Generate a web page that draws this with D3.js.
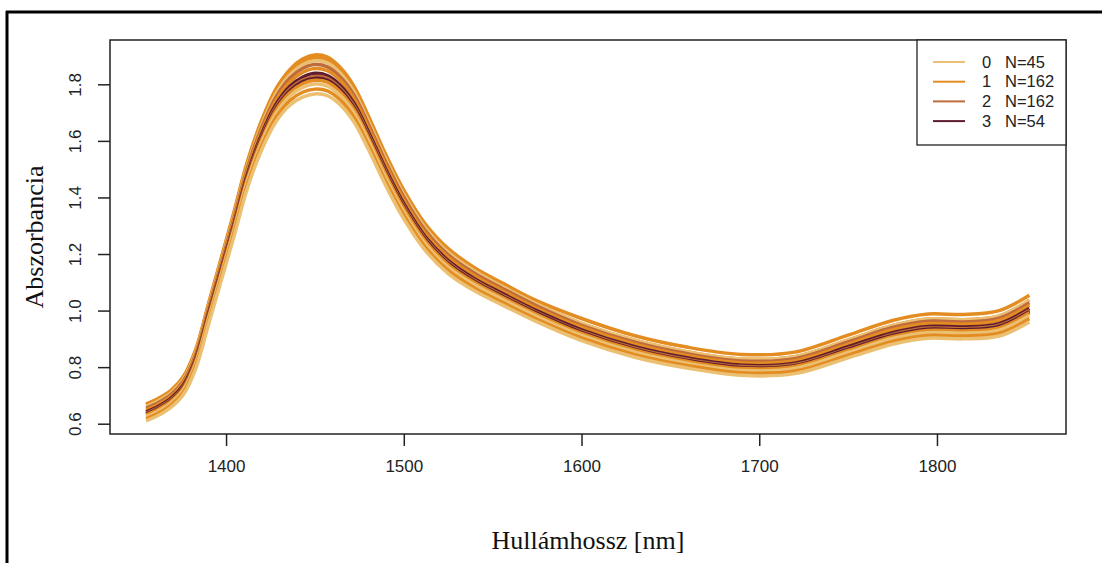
<!DOCTYPE html>
<html>
<head>
<meta charset="utf-8">
<script src="https://cdn.jsdelivr.net/npm/d3@7"></script>
<style>
  html, body { margin: 0; padding: 0; background: #fff; }
  svg { display: block; }
</style>
</head>
<body>
<svg id="chart" width="1102" height="563"></svg>
<script>
// ---- data ----
const wavelengths = [1355,1362,1369,1376,1383,1390,1397,1404,1412,1420,1428,1436,1443,1450,1457,1464,1472,1480,1490,1500,1512,1525,1540,1555,1575,1600,1630,1660,1690,1720,1750,1775,1795,1815,1835,1852];

const groups = ["0", "1", "2", "3"];
const groupCounts = [45, 162, 162, 54];
const groupColors = ["#EBC073", "#E38C22", "#BF6B3C", "#5E1C2E"];

// representative spectra (group index of each, then absorbance at each wavelength)
const spectraGroup = [1, 1, 0, 2, 1, 3, 2, 3, 1, 0, 1, 0];
const s01 = [0.670,0.690,0.718,0.767,0.864,1.022,1.180,1.338,1.527,1.672,1.783,1.853,1.889,1.904,1.896,1.861,1.793,1.689,1.550,1.426,1.307,1.219,1.151,1.099,1.034,0.972,0.911,0.870,0.845,0.853,0.913,0.965,0.988,0.986,1.000,1.054];
const s12 = [0.666,0.686,0.714,0.762,0.859,1.017,1.174,1.332,1.520,1.664,1.775,1.844,1.879,1.894,1.886,1.851,1.784,1.680,1.542,1.419,1.300,1.213,1.145,1.093,1.023,0.955,0.895,0.854,0.829,0.837,0.896,0.947,0.970,0.968,0.981,1.037];
const s02 = [0.661,0.681,0.709,0.757,0.854,1.011,1.168,1.325,1.513,1.656,1.766,1.834,1.869,1.883,1.876,1.841,1.774,1.671,1.534,1.411,1.293,1.206,1.139,1.087,1.023,0.955,0.895,0.854,0.829,0.837,0.896,0.947,0.970,0.968,0.981,1.037];
const s03 = [0.655,0.675,0.703,0.751,0.847,1.004,1.160,1.317,1.504,1.646,1.754,1.822,1.856,1.870,1.862,1.828,1.762,1.660,1.523,1.401,1.284,1.197,1.131,1.080,1.016,0.948,0.888,0.847,0.822,0.830,0.889,0.940,0.962,0.960,0.973,1.028];
const s04 = [0.649,0.669,0.697,0.745,0.840,0.996,1.152,1.308,1.494,1.636,1.742,1.809,1.842,1.856,1.848,1.815,1.749,1.648,1.512,1.390,1.274,1.188,1.122,1.072,1.008,0.941,0.881,0.840,0.815,0.823,0.881,0.932,0.954,0.952,0.965,1.019];
const s05 = [0.642,0.662,0.690,0.737,0.832,0.987,1.142,1.297,1.482,1.623,1.728,1.793,1.825,1.839,1.831,1.798,1.733,1.633,1.498,1.378,1.262,1.177,1.112,1.062,0.999,0.932,0.872,0.832,0.807,0.814,0.872,0.922,0.944,0.942,0.954,1.007];
const s06 = [0.637,0.657,0.685,0.732,0.827,0.981,1.136,1.291,1.475,1.615,1.719,1.784,1.815,1.828,1.821,1.788,1.724,1.624,1.490,1.370,1.255,1.171,1.106,1.056,0.993,0.926,0.867,0.827,0.802,0.809,0.866,0.916,0.938,0.936,0.948,1.001];
const s07 = [0.634,0.654,0.682,0.729,0.823,0.978,1.132,1.286,1.471,1.610,1.713,1.777,1.809,1.821,1.814,1.782,1.717,1.618,1.484,1.365,1.251,1.166,1.102,1.052,0.990,0.923,0.863,0.823,0.798,0.805,0.863,0.912,0.934,0.932,0.944,0.996];
const s08 = [0.631,0.651,0.679,0.725,0.820,0.974,1.128,1.282,1.466,1.604,1.708,1.771,1.802,1.814,1.808,1.775,1.711,1.612,1.479,1.360,1.246,1.162,1.098,1.048,0.986,0.919,0.860,0.820,0.795,0.802,0.859,0.908,0.930,0.928,0.939,0.992];
const s09 = [0.625,0.645,0.673,0.719,0.813,0.967,1.120,1.274,1.457,1.594,1.696,1.759,1.789,1.801,1.794,1.762,1.699,1.601,1.468,1.349,1.237,1.153,1.090,1.041,0.979,0.912,0.853,0.813,0.788,0.795,0.852,0.901,0.922,0.920,0.931,0.983];
const s10 = [0.618,0.638,0.666,0.711,0.805,0.957,1.110,1.263,1.445,1.581,1.682,1.743,1.772,1.783,1.777,1.746,1.683,1.586,1.454,1.337,1.225,1.142,1.079,1.031,0.969,0.903,0.844,0.805,0.780,0.786,0.842,0.891,0.912,0.910,0.920,0.971];
const s11 = [0.610,0.630,0.658,0.703,0.796,0.948,1.100,1.252,1.433,1.568,1.667,1.727,1.755,1.766,1.760,1.729,1.667,1.571,1.440,1.324,1.213,1.131,1.069,1.021,0.960,0.894,0.835,0.796,0.771,0.777,0.833,0.881,0.902,0.900,0.910,0.960];
const spectra = [s01, s12, s02, s03, s04, s05, s06, s07, s08, s09, s10, s11];

const xTicks = [1400, 1500, 1600, 1700, 1800];
const yTicks = [0.6, 0.8, 1.0, 1.2, 1.4, 1.6, 1.8];
const xTitle = "Hullámhossz [nm]";
const yTitle = "Abszorbancia";

// ---- layout ----
const svg = d3.select("#chart");
const plot = {left: 110, right: 1066, top: 40, bottom: 434};

const x = d3.scaleLinear().domain([1334.7, 1872.6]).range([plot.left, plot.right]);
const y = d3.scaleLinear().domain([0.5636, 1.9567]).range([plot.bottom, plot.top]);

// outer frame (top and left edge visible)
svg.append("line").attr("x1", 6).attr("x2", 1102).attr("y1", 12).attr("y2", 12)
  .attr("stroke", "#000").attr("stroke-width", 3);
svg.append("line").attr("x1", 7).attr("x2", 7).attr("y1", 11).attr("y2", 563)
  .attr("stroke", "#000").attr("stroke-width", 3);

// spectra
const line = d3.line()
  .x((d, i) => x(wavelengths[i]))
  .y(d => y(d))
  .curve(d3.curveCatmullRom.alpha(0.5));

const g = svg.append("g");
spectra.forEach((s, k) => {
  g.append("path")
    .attr("d", line(s))
    .attr("fill", "none")
    .attr("stroke", groupColors[spectraGroup[k]])
    .attr("stroke-width", 3.5)
    .attr("stroke-linejoin", "round");
});

// axes
const axisFont = "'Liberation Sans', Arial, sans-serif";
const xAxis = svg.append("g").attr("transform", `translate(0,${plot.bottom})`)
  .call(d3.axisBottom(x).tickValues(xTicks).tickSize(12).tickPadding(14).tickFormat(d3.format("d")));
xAxis.select(".domain").remove();
xAxis.selectAll("text").attr("font-family", axisFont).attr("font-size", 17).attr("fill", "#222");
xAxis.selectAll("line").attr("stroke", "#222").attr("stroke-width", 1.5);

const yAxis = svg.append("g").attr("transform", `translate(${plot.left},0)`)
  .call(d3.axisLeft(y).tickValues(yTicks).tickSize(12).tickFormat(d3.format(".1f")));
yAxis.select(".domain").remove();
yAxis.selectAll("line").attr("stroke", "#222").attr("stroke-width", 1.5);
yAxis.selectAll("text")
  .attr("font-family", axisFont).attr("font-size", 17).attr("fill", "#222")
  .attr("x", null).attr("dy", null)
  .attr("text-anchor", "middle")
  .attr("transform", "translate(-35,0) rotate(-90)")
  .attr("dy", "0.35em");

// plot box
svg.append("rect")
  .attr("x", plot.left).attr("y", plot.top)
  .attr("width", plot.right - plot.left).attr("height", plot.bottom - plot.top)
  .attr("fill", "none").attr("stroke", "#222").attr("stroke-width", 1.5);

// titles
svg.append("text").attr("x", 588).attr("y", 549)
  .attr("text-anchor", "middle")
  .attr("font-family", "'Liberation Serif', 'Times New Roman', serif")
  .attr("font-size", 26).attr("fill", "#111").text(xTitle);
svg.append("text")
  .attr("transform", `translate(43,${(plot.top + plot.bottom) / 2}) rotate(-90)`)
  .attr("text-anchor", "middle")
  .attr("font-family", "'Liberation Serif', 'Times New Roman', serif")
  .attr("font-size", 26).attr("fill", "#111").text(yTitle);

// legend
const leg = svg.append("g");
leg.append("rect").attr("x", 917).attr("y", 40).attr("width", 149).attr("height", 105)
  .attr("fill", "#fff").attr("stroke", "#222").attr("stroke-width", 1.3);
groups.forEach((grp, i) => {
  const yy = 62 + i * 19.7;
  leg.append("line").attr("x1", 933).attr("x2", 965).attr("y1", yy).attr("y2", yy)
    .attr("stroke", groupColors[i]).attr("stroke-width", 2);
  leg.append("text").attr("x", 982).attr("y", yy).attr("dy", "0.35em")
    .attr("font-family", axisFont).attr("font-size", 16.5).attr("fill", "#222").text(grp);
  leg.append("text").attr("x", 1005).attr("y", yy).attr("dy", "0.35em")
    .attr("font-family", axisFont).attr("font-size", 16.5).attr("fill", "#222").text("N=" + groupCounts[i]);
});
</script>
</body>
</html>
